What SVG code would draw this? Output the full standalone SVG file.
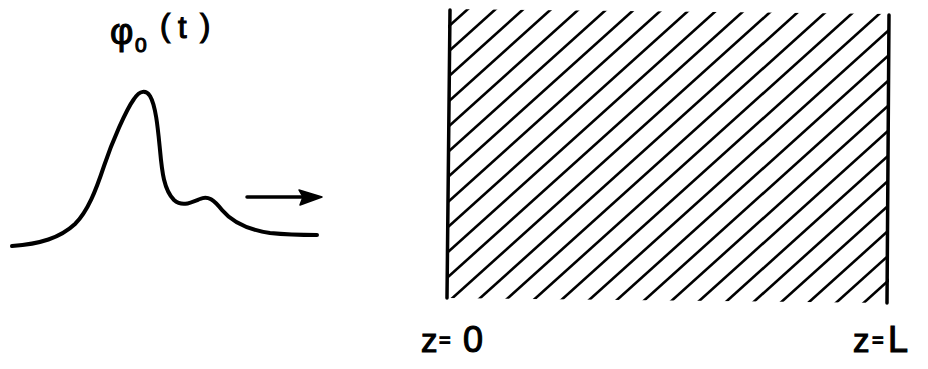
<svg xmlns="http://www.w3.org/2000/svg" width="928" height="369" viewBox="0 0 928 369">
<style>
.ink{stroke:#000;fill:none;stroke-linecap:round;stroke-linejoin:round}
.hatch line{stroke:#000;stroke-width:2.6}
.lbl{font-family:"Liberation Sans",Arial,sans-serif;fill:#000;stroke:#000;stroke-width:1.1}
</style>
<defs>
<clipPath id="slab"><polygon points="448,9 889,14 889,303 448,298"/></clipPath>
</defs>
<rect width="928" height="369" fill="#fff"/>
<g id="pulse">
<path class="ink" stroke-width="4" d="M12,246 C40,244 60,238 75,224 C88,211 96,190 104,166 C112,142 126,110 134,99 C140,90 146,90 150,96 C156,106 158,130 160,150 C162,172 164,190 174,200 C182,207 190,203 200,199 C208,195 214,200 222,210 C232,222 250,230 270,233 C290,235 305,235 317,235"/>
<text class="lbl" font-size="36" x="110" y="44">φ</text>
<text class="lbl" font-size="21" x="135" y="52">0</text>
<text class="lbl" font-size="31" x="160" y="36">(</text>
<text class="lbl" font-size="31" x="178" y="38">t</text>
<text class="lbl" font-size="31" x="200" y="36">)</text>
</g>
<g id="connectors">
<line class="ink" stroke-width="3.5" x1="247" y1="197" x2="306" y2="197"/>
<polygon points="322,197 299,190 303,197 300,205" fill="#000" stroke="#000" stroke-width="1.5" stroke-linejoin="round"/>
</g>
<g id="medium">
<g class="hatch" clip-path="url(#slab)">
<line x1="440" y1="34.2" x2="900" y2="-379.8"/>
<line x1="440" y1="59.2" x2="900" y2="-354.8"/>
<line x1="440" y1="84.2" x2="900" y2="-329.8"/>
<line x1="440" y1="109.2" x2="900" y2="-304.8"/>
<line x1="440" y1="134.2" x2="900" y2="-279.8"/>
<line x1="440" y1="159.2" x2="900" y2="-254.8"/>
<line x1="440" y1="184.2" x2="900" y2="-229.8"/>
<line x1="440" y1="209.2" x2="900" y2="-204.8"/>
<line x1="440" y1="234.2" x2="900" y2="-179.8"/>
<line x1="440" y1="259.2" x2="900" y2="-154.8"/>
<line x1="440" y1="284.2" x2="900" y2="-129.8"/>
<line x1="440" y1="309.2" x2="900" y2="-104.8"/>
<line x1="440" y1="334.2" x2="900" y2="-79.8"/>
<line x1="440" y1="359.2" x2="900" y2="-54.8"/>
<line x1="440" y1="384.2" x2="900" y2="-29.8"/>
<line x1="440" y1="409.2" x2="900" y2="-4.8"/>
<line x1="440" y1="434.2" x2="900" y2="20.2"/>
<line x1="440" y1="459.2" x2="900" y2="45.2"/>
<line x1="440" y1="484.2" x2="900" y2="70.2"/>
<line x1="440" y1="509.2" x2="900" y2="95.2"/>
<line x1="440" y1="534.2" x2="900" y2="120.2"/>
<line x1="440" y1="559.2" x2="900" y2="145.2"/>
<line x1="440" y1="584.2" x2="900" y2="170.2"/>
<line x1="440" y1="609.2" x2="900" y2="195.2"/>
<line x1="440" y1="634.2" x2="900" y2="220.2"/>
<line x1="440" y1="659.2" x2="900" y2="245.2"/>
<line x1="440" y1="684.2" x2="900" y2="270.2"/>
<line x1="440" y1="709.2" x2="900" y2="295.2"/>
</g>
<line class="ink" stroke-width="3.5" x1="450" y1="10" x2="447" y2="298"/>
<line class="ink" stroke-width="3.5" x1="889" y1="15" x2="887" y2="303"/>
</g>
<g id="label-z0">
<text class="lbl" font-size="33" x="421" y="352">z</text>
<text class="lbl" font-size="20" x="439" y="347">=</text>
<text class="lbl" font-size="36" x="463" y="352">0</text>
</g>
<g id="label-zL">
<text class="lbl" font-size="33" x="853" y="352">z</text>
<text class="lbl" font-size="20" x="872" y="347">=</text>
<text class="lbl" font-size="36" x="888" y="352">L</text>
</g>
</svg>
